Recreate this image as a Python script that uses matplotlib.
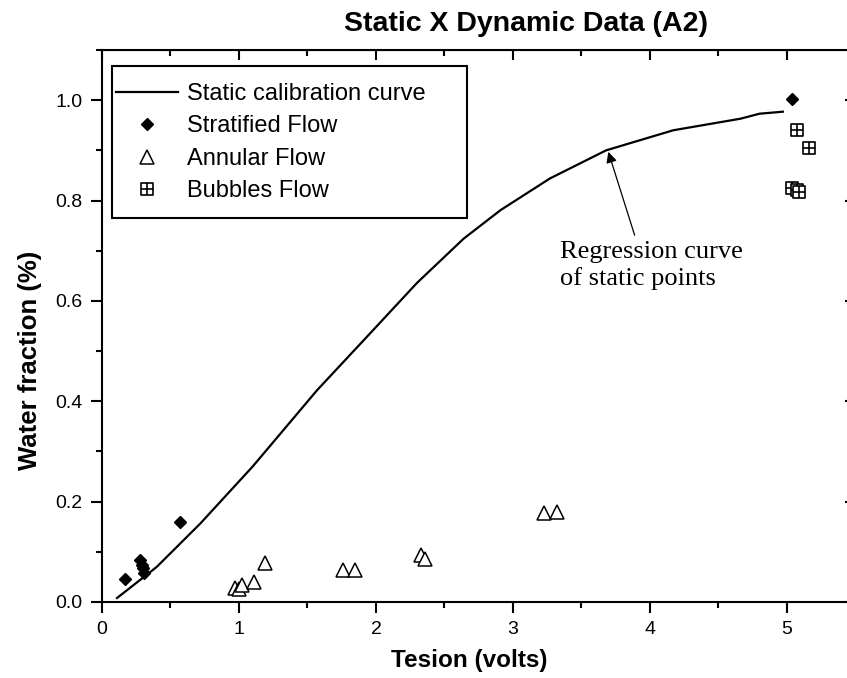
import matplotlib
matplotlib.use('Agg')
import matplotlib.pyplot as plt
from matplotlib.path import Path
from matplotlib.patches import Rectangle
from matplotlib.ticker import MultipleLocator

# Static calibration curve (regression of static points)
curve_x = [0.11, 0.40, 0.72, 1.10, 1.57, 1.98, 2.30, 2.64, 2.91, 3.27, 3.68, 4.17, 4.66, 4.80, 4.97]
curve_y = [0.008, 0.070, 0.157, 0.270, 0.422, 0.542, 0.636, 0.724, 0.781, 0.844, 0.900, 0.940, 0.963, 0.973, 0.977]

# Stratified flow points
strat_x = [0.17, 0.28, 0.29, 0.30, 0.31, 0.57, 5.04]
strat_y = [0.046, 0.084, 0.074, 0.067, 0.057, 0.159, 1.002]

# Annular flow points
annular_x = [0.97, 1.00, 1.02, 1.11, 1.19, 1.76, 1.85, 2.33, 2.36, 3.23, 3.32]
annular_y = [0.027, 0.025, 0.034, 0.040, 0.078, 0.064, 0.064, 0.094, 0.085, 0.177, 0.180]

# Bubbles flow points
bubbles_x = [5.07, 5.16, 5.04, 5.07, 5.09]
bubbles_y = [0.940, 0.904, 0.824, 0.820, 0.817]

plt.rcParams['font.family'] = ['Liberation Sans', 'DejaVu Sans']

# square with a cross inside (Origin's "bubbles" symbol)
box_plus = Path(
    [(-1, -1), (1, -1), (1, 1), (-1, 1), (-1, -1),
     (-1, 0), (1, 0), (0, -1), (0, 1)],
    [Path.MOVETO, Path.LINETO, Path.LINETO, Path.LINETO, Path.CLOSEPOLY,
     Path.MOVETO, Path.LINETO, Path.MOVETO, Path.LINETO])

fig = plt.figure(figsize=(8.47, 6.78), dpi=100)
ax = fig.add_axes([0.1204, 0.1121, 0.8896, 0.8142])

ax.plot(curve_x, curve_y, color='black', linewidth=1.6, label='Static calibration curve')
ax.plot(strat_x, strat_y, linestyle='none', marker='D', markersize=6,
        color='black', label='Stratified Flow')
ax.plot(annular_x, annular_y, linestyle='none', marker='^', markersize=10,
        markerfacecolor='white', markeredgecolor='black', markeredgewidth=1.1,
        label='Annular Flow')
ax.plot(bubbles_x, bubbles_y, linestyle='none', marker=box_plus, markersize=8,
        markerfacecolor='white', markeredgecolor='black', markeredgewidth=1.2,
        label='Bubbles Flow')

ax.set_xlim(0, 5.5)
ax.set_ylim(0, 1.1)
ax.set_xticks([0, 1, 2, 3, 4, 5])
ax.set_yticks([0.0, 0.2, 0.4, 0.6, 0.8, 1.0])
ax.set_yticklabels(['0.0', '0.2', '0.4', '0.6', '0.8', '1.0'])
ax.xaxis.set_minor_locator(MultipleLocator(0.5))
ax.yaxis.set_minor_locator(MultipleLocator(0.1))
ax.tick_params(which='major', direction='out', length=8, width=1.5, labelsize=14, pad=6)
ax.tick_params(which='minor', direction='out', length=4, width=1.5)
for sp in ax.spines.values():
    sp.set_linewidth(1.5)

# mirrored ticks on the top and right, pointing inward
top = ax.secondary_xaxis('top')
top.set_xticks([0, 1, 2, 3, 4, 5])
top.xaxis.set_minor_locator(MultipleLocator(0.5))
top.tick_params(which='both', direction='in', labeltop=False, width=1.5)
top.tick_params(which='major', length=7)
top.tick_params(which='minor', length=4)
right = ax.secondary_yaxis('right')
right.set_yticks([0.0, 0.2, 0.4, 0.6, 0.8, 1.0])
right.yaxis.set_minor_locator(MultipleLocator(0.1))
right.tick_params(which='both', direction='in', labelright=False, width=1.5)
right.tick_params(which='major', length=7)
right.tick_params(which='minor', length=4)

ax.set_xlabel('Tesion (volts)', fontsize=17.5, fontweight='bold')
ax.xaxis.set_label_coords(0.488, -0.085)
ax.set_ylabel('Water fraction (%)', fontsize=18.5, fontweight='bold')
ax.yaxis.set_label_coords(-0.079, 0.437)
fig.text(0.621, 0.965, 'Static X Dynamic Data (A2)', fontsize=20.5, fontweight='bold',
         ha='center', va='center')

# legend box drawn separately (Origin style: tight sides, roomy top)
ax.add_patch(Rectangle((0.0133, 0.696), 0.471, 0.275, transform=ax.transAxes,
                       facecolor='white', edgecolor='black', linewidth=1.5, zorder=4))
leg = ax.legend(loc='upper left', bbox_to_anchor=(0.0186, 0.940), borderaxespad=0,
                fontsize=17, frameon=False, numpoints=1,
                handlelength=2.63, handletextpad=0.38, labelspacing=0.44,
                borderpad=0)
leg.set_zorder(5)

ax.annotate('Regression curve\nof static points', xy=(3.696, 0.897), xytext=(3.34, 0.72),
            fontsize=19, family=['Liberation Serif', 'DejaVu Serif'], ha='left', va='top',
            linespacing=1.22,
            arrowprops=dict(arrowstyle='-|>', color='black', lw=0.9,
                            mutation_scale=16, shrinkA=2, shrinkB=0,
                            relpos=(0.42, 1.0)))

plt.savefig('out.png', dpi=100)
